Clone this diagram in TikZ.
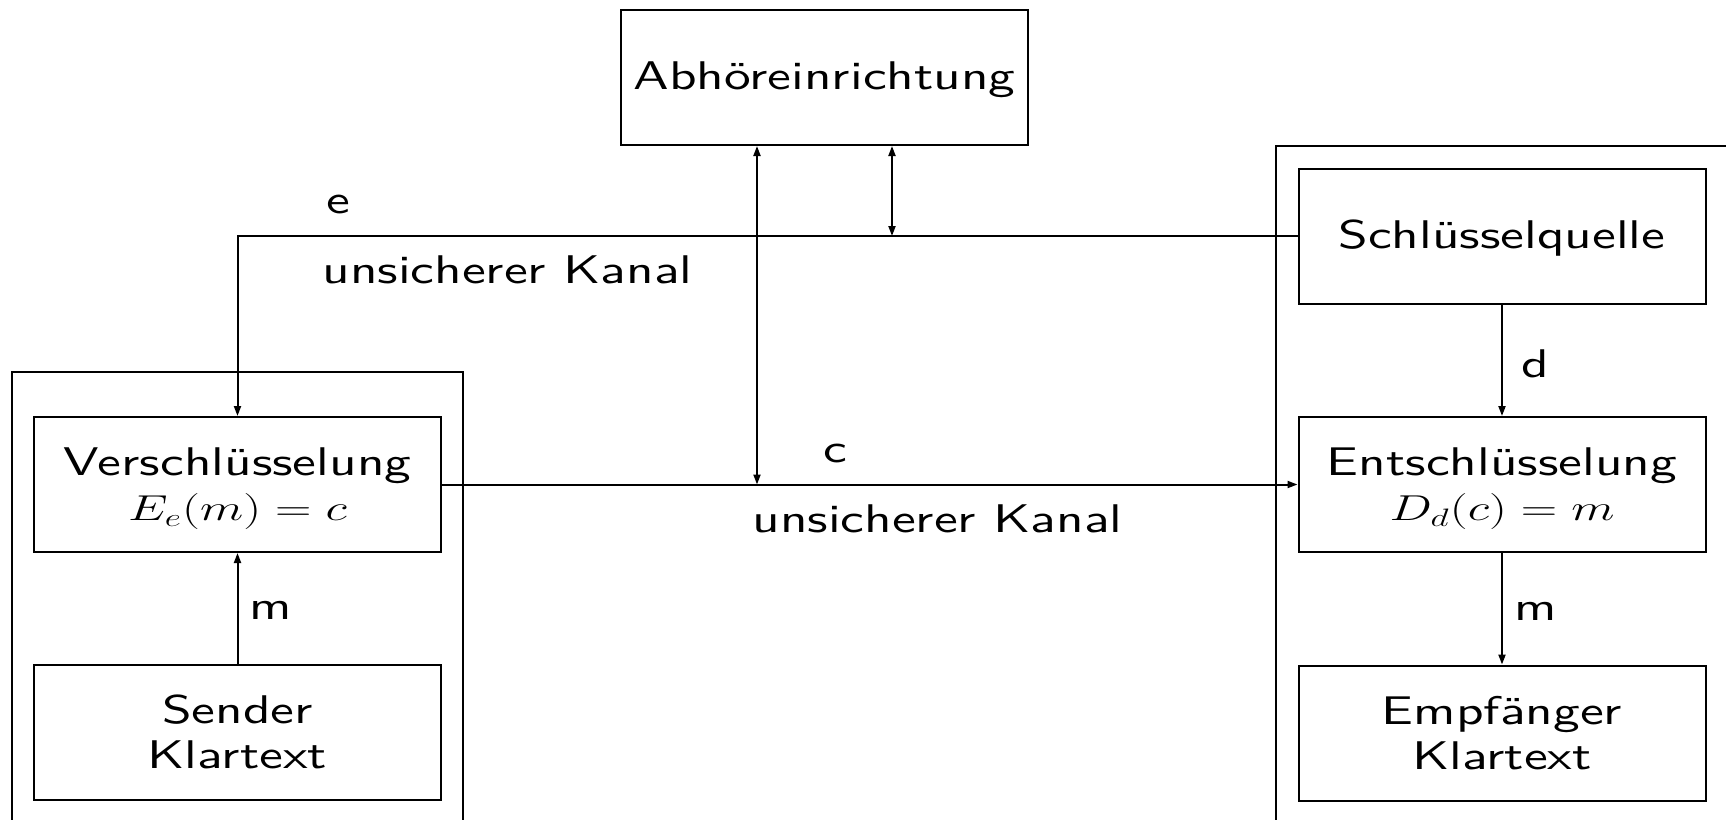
\RequirePackage{fix-cm}
\documentclass[tikz,border=0pt]{standalone}
\usepackage[no-math]{fontspec}
\setmainfont{lmsans10-regular.otf}
\usepackage{graphicx}
\usetikzlibrary{arrows.meta}

% widened lettering used throughout the scheme
\newcommand\wide[1]{\scalebox{1.335}[1]{#1}}
\newcommand\mathline[1]{\scalebox{1.05}[1]{\fontsize{18}{22.5}\selectfont$#1$}}
\newcommand\twolines[2]{\wide{\begin{tabular}[t]{@{}c@{}}#1\\#2\end{tabular}}}

\tikzset{
  panel/.style={draw, line width=1pt, minimum width=203.5pt, minimum height=67.5pt, inner sep=0pt},
  boxtwo/.style={panel, text height=15.75pt, text depth=24.5pt},
  boxone/.style={panel, text height=15pt, text depth=3pt},
  lbl/.style={inner sep=0pt, anchor=base west},
  conn/.style={line width=1pt, -{Triangle[length=5pt,width=3.5pt]}},
  both/.style={line width=1pt, {Triangle[length=5pt,width=3.5pt]}-{Triangle[length=5pt,width=3.5pt]}},
  frame/.style={line width=1pt}
}

\begin{document}
\begin{tikzpicture}[x=0.5pt, y=-0.5pt, font=\fontsize{20}{22.5}\selectfont]
\useasboundingbox (0,0) rectangle (1726,820);

% sender and receiver domains (cut by the page edge)
\begin{scope}
  \clip (0,0) rectangle (1726,820);
  \draw[frame] (12,840) |- (463,372) -- (463,840);
  \draw[frame] (1276,840) |- (1750,146);
\end{scope}

% blocks
\node[boxone] (abh)     at (824.5,77.5) {\wide{Abhöreinrichtung}};
\node[boxone] (schl)    at (1502,236)   {\wide{Schlüsselquelle}};
\node[boxtwo] (verschl) at (237.5,484.5) {\twolines{Verschlüsselung}{\mathline{E_e(m)=c}}};
\node[boxtwo] (entsch)  at (1502,484.5)  {\twolines{Entschlüsselung}{\mathline{D_d(c)=m}}};
\node[boxtwo] (sender)  at (237.5,732.5) {\twolines{Sender}{Klartext}};
\node[boxtwo] (empf)    at (1502,733)    {\twolines{Empfänger}{Klartext}};

% taps of the eavesdropper on both channels
\coordinate (tapc) at (757,484.5);
\coordinate (tape) at (892,236);

% connectors
\draw[conn] (schl.west) -| (verschl.north);
\draw[conn] (verschl.east) -- (entsch.west);
\draw[conn] (sender.north) -- (verschl.south);
\draw[conn] (schl.south) -- (entsch.north);
\draw[conn] (entsch.south) -- (empf.north);
\draw[both] (abh.south -| tapc) -- (tapc);
\draw[both] (abh.south -| tape) -- (tape);

% labels
\node[lbl] (le)  at (326,213) {\wide{e}};
\node[lbl] (lk1) at (322,283) {\wide{unsicherer Kanal}};
\node[lbl] (lc)  at (823,462) {\wide{c}};
\node[lbl] (lk2) at (752,532) {\wide{unsicherer Kanal}};
\node[lbl] (ld)  at (1521,377) {\wide{d}};
\node[lbl] (lm1) at (249,619) {\wide{m}};
\node[lbl] (lm2) at (1514,620) {\wide{m}};
\end{tikzpicture}
\end{document}
